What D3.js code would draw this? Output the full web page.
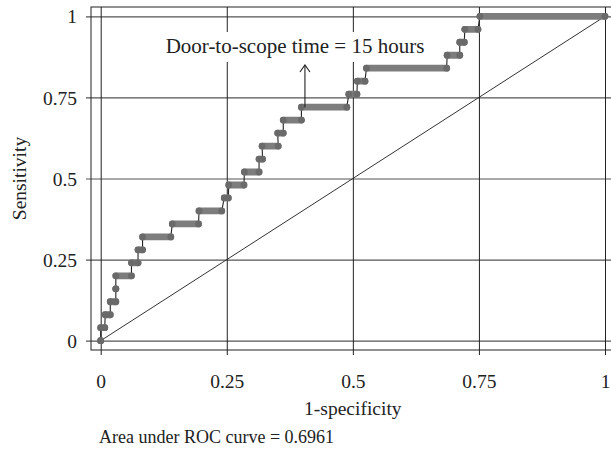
<!DOCTYPE html>
<html>
<head>
<meta charset="utf-8">
<script src="https://cdn.jsdelivr.net/npm/d3@7"></script>
<style>
  html, body { margin: 0; padding: 0; background: #fff; }
  svg text { font-family: "Liberation Serif", "DejaVu Serif", serif; fill: #222; }
</style>
</head>
<body>
<div id="chart"></div>
<script>
// ROC steps: sensitivity level and the 1-specificity range it covers
const sensitivity = [0, 0.04, 0.08, 0.12, 0.16, 0.20, 0.24, 0.28, 0.32, 0.36, 0.40, 0.44, 0.48,
  0.52, 0.56, 0.60, 0.64, 0.68, 0.72, 0.76, 0.80, 0.84, 0.88, 0.92, 0.96, 1.00];
const fprStart = [0, 0, 0.009, 0.019, 0.030, 0.030, 0.061, 0.074, 0.083, 0.142, 0.195, 0.245, 0.254,
  0.285, 0.314, 0.320, 0.351, 0.362, 0.398, 0.492, 0.509, 0.527, 0.687, 0.712, 0.722, 0.752];
const fprEnd = [0, 0.008, 0.019, 0.030, 0.030, 0.061, 0.074, 0.083, 0.139, 0.194, 0.240, 0.253, 0.284,
  0.314, 0.321, 0.352, 0.362, 0.398, 0.488, 0.508, 0.524, 0.686, 0.712, 0.721, 0.748, 1.0];
const tickValues = [0, 0.25, 0.5, 0.75, 1];
const tickLabels = ['0', '0.25', '0.5', '0.75', '1'];
const cutoffPoint = { fpr: 0.405, sens: 0.72, label: 'Door-to-scope time = 15 hours' };
const aucText = 'Area under ROC curve = 0.6961';

const W = 611, H = 450;
const frame = { left: 91, top: 7, right: 614, bottom: 350 };

const svg = d3.select('#chart').append('svg')
  .attr('width', W).attr('height', H);

const x = d3.scaleLinear().domain([0, 1]).range([100.7, 605]);
const y = d3.scaleLinear().domain([0, 1]).range([340.7, 16.3]);

// horizontal grid + left ticks
const yAxis = d3.axisLeft(y).tickValues(tickValues)
  .tickSize(-(frame.right - frame.left))
  .tickFormat((d, i) => tickLabels[i]);
const gy = svg.append('g').attr('transform', `translate(${frame.left},0)`).call(yAxis);
gy.select('.domain').remove();
gy.selectAll('.tick line').attr('stroke', '#555').attr('stroke-width', 1.2).attr('x1', -5);
gy.selectAll('.tick text').attr('font-size', 19.5).attr('x', -14).attr('dy', '0.34em');

// vertical grid + bottom ticks
const xAxis = d3.axisBottom(x).tickValues(tickValues)
  .tickSize(frame.bottom - frame.top + 5)
  .tickFormat((d, i) => tickLabels[i]);
const gx = svg.append('g').attr('transform', `translate(0,${frame.top})`).call(xAxis);
gx.select('.domain').remove();
gx.selectAll('.tick line').attr('stroke', '#222').attr('stroke-width', 1);
gx.selectAll('.tick text').attr('font-size', 19.5).attr('y', 388 - frame.top).attr('dy', 0);

// frame
svg.append('rect')
  .attr('x', frame.left).attr('y', frame.top)
  .attr('width', frame.right - frame.left).attr('height', frame.bottom - frame.top)
  .attr('fill', 'none').attr('stroke', '#222').attr('stroke-width', 1);

// reference diagonal
svg.append('line')
  .attr('x1', x(0)).attr('y1', y(0)).attr('x2', x(1)).attr('y2', y(1))
  .attr('stroke', '#333').attr('stroke-width', 1);

// annotation box knocks out the grid behind the text
const ann = svg.append('g');
ann.append('rect')
  .attr('x', 156).attr('y', 32).attr('width', 280).attr('height', 30)
  .attr('fill', '#fff');
ann.append('text')
  .attr('x', 295).attr('y', 53)
  .attr('text-anchor', 'middle')
  .attr('font-size', 21)
  .text(cutoffPoint.label);

// step line through run endpoints
const pts = [];
sensitivity.forEach((s, i) => {
  pts.push([fprStart[i], s]);
  pts.push([fprEnd[i], s]);
});
svg.append('path')
  .attr('d', d3.line().x(d => x(d[0])).y(d => y(d[1]))(pts))
  .attr('fill', 'none').attr('stroke', '#222').attr('stroke-width', 1.1);

// marker runs
const runs = svg.append('g');
runs.selectAll('line')
  .data(sensitivity)
  .join('line')
  .attr('x1', (d, i) => x(fprStart[i])).attr('x2', (d, i) => x(fprEnd[i]))
  .attr('y1', d => y(d)).attr('y2', d => y(d))
  .attr('stroke', '#7d7d7d').attr('stroke-width', 6.8).attr('stroke-linecap', 'round');
runs.selectAll('circle.s')
  .data(sensitivity)
  .join('circle').attr('class', 's')
  .attr('cx', (d, i) => x(fprStart[i])).attr('cy', d => y(d)).attr('r', 3.4)
  .attr('fill', '#6a6a6a');
runs.selectAll('circle.e')
  .data(sensitivity)
  .join('circle').attr('class', 'e')
  .attr('cx', (d, i) => x(fprEnd[i])).attr('cy', d => y(d)).attr('r', 3.4)
  .attr('fill', '#6a6a6a');

// arrow to the chosen cutoff
const ax = x(cutoffPoint.fpr), ay0 = y(cutoffPoint.sens), ay1 = 65;
svg.append('line')
  .attr('x1', ax).attr('x2', ax).attr('y1', ay0).attr('y2', ay1)
  .attr('stroke', '#222').attr('stroke-width', 1.1);
svg.append('path')
  .attr('d', `M${ax - 5},${ay1 + 7}L${ax},${ay1}L${ax + 5},${ay1 + 7}`)
  .attr('fill', 'none').attr('stroke', '#222').attr('stroke-width', 1.1);

// titles
svg.append('text')
  .attr('x', x(0.5)).attr('y', 415)
  .attr('text-anchor', 'middle').attr('font-size', 19.5)
  .text('1-specificity');
svg.append('text')
  .attr('transform', `translate(26,${y(0.5)}) rotate(-90)`)
  .attr('text-anchor', 'middle').attr('font-size', 19.5)
  .text('Sensitivity');
svg.append('text')
  .attr('x', 99).attr('y', 443)
  .attr('font-size', 18)
  .text(aucText);
</script>
</body>
</html>
